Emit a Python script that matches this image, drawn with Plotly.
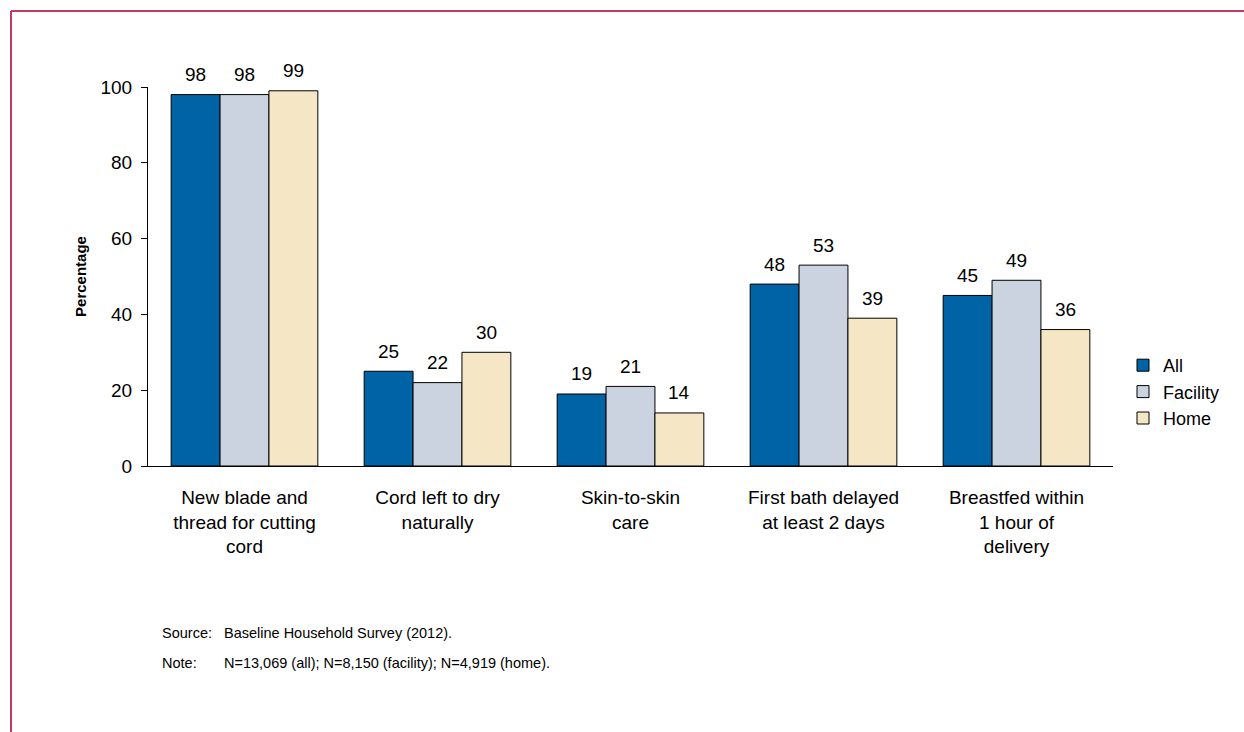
import plotly.graph_objects as go

categories = ["New blade and<br>thread for cutting<br>cord", "Cord left to dry<br>naturally",
              "Skin-to-skin<br>care", "First bath delayed<br>at least 2 days",
              "Breastfed within<br>1 hour of<br>delivery"]
series_names = ["All", "Facility", "Home"]
all_vals = [98, 25, 19, 48, 45]
facility_vals = [98, 22, 21, 53, 49]
home_vals = [99, 30, 14, 39, 36]
colors = ["#0063A6", "#CBD3E0", "#F5E6C6"]
y_ticks = [0, 20, 40, 60, 80, 100]

W, H = 1244, 732
L, R, T, B = 148, 1113, 87, 466
BARGAP = 0.24
font = "Liberation Sans, Arial, sans-serif"

fig = go.Figure()
series = [all_vals, facility_vals, home_vals]
n = len(series)
bar_w = (1 - BARGAP) / n
for k, (name, vals, c) in enumerate(zip(series_names, series, colors)):
    fig.add_trace(go.Bar(
        name=name, x=categories, y=vals,
        marker=dict(color=c, line=dict(color="#000000", width=1)),
    ))
    offset = (k - (n - 1) / 2) * bar_w
    for i, v in enumerate(vals):
        fig.add_annotation(x=i + offset, y=v, xref="x", yref="y", text=str(v), showarrow=False,
                           yanchor="middle", yshift=20,
                           font=dict(size=19, color="#000000", family=font))

def px_x(px):
    return (px - L) / (R - L)

def px_y(py):
    return (B - py) / (B - T)

border = "#C23B63"
fig.add_shape(type="line", xref="paper", yref="paper", x0=px_x(11), x1=px_x(1250), y0=px_y(11), y1=px_y(11),
              line=dict(color=border, width=2))
fig.add_shape(type="line", xref="paper", yref="paper", x0=px_x(11), x1=px_x(11), y0=px_y(11), y1=px_y(740),
              line=dict(color=border, width=2))

notes = [("Source:", "Baseline Household Survey (2012).", 633),
         ("Note:", "N=13,069 (all); N=8,150 (facility); N=4,919 (home).", 663)]
for lab, txt, yy in notes:
    fig.add_annotation(xref="paper", yref="paper", x=px_x(160), y=px_y(yy), text=lab, showarrow=False,
                       xanchor="left", yanchor="middle", font=dict(size=14.5, color="#000000", family=font))
    fig.add_annotation(xref="paper", yref="paper", x=px_x(222), y=px_y(yy), text=txt, showarrow=False,
                       xanchor="left", yanchor="middle", font=dict(size=14.5, color="#000000", family=font))

fig.update_layout(
    width=W, height=H, autosize=False,
    margin=dict(l=L, r=W - R, t=T, b=H - B, pad=0),
    paper_bgcolor="white", plot_bgcolor="white",
    barmode="group", bargap=BARGAP, bargroupgap=0,
    font=dict(family=font, size=19, color="#000000"),
    showlegend=True,
    legend=dict(x=px_x(1123), y=px_y(347), xanchor="left", yanchor="top",
                font=dict(size=18, family=font), tracegroupgap=0, itemwidth=30,
                bgcolor="rgba(0,0,0,0)"),
    xaxis=dict(showline=True, linecolor="#000000", linewidth=1, ticks="", showgrid=False,
               tickfont=dict(size=19, family=font), zeroline=False, ticklabelstandoff=14),
    yaxis=dict(range=[0, 100], tickvals=y_ticks, showline=True, linecolor="#000000", linewidth=1,
               ticks="outside", ticklen=6, tickcolor="#000000", showgrid=False, zeroline=False,
               tickfont=dict(size=19, family=font), ticklabelstandoff=5,
               title=dict(text="<b>Percentage</b>", font=dict(size=15, family=font), standoff=10)),
)

fig.write_html("out.html")
